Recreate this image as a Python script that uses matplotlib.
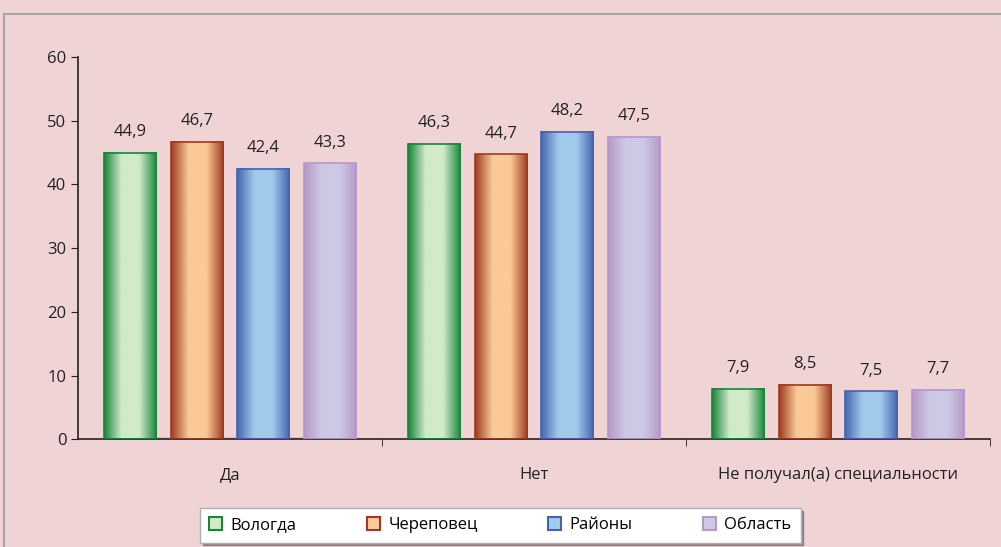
import matplotlib
matplotlib.use("Agg")
import matplotlib.pyplot as plt
import numpy as np
from matplotlib.colors import LinearSegmentedColormap
from matplotlib.patches import Rectangle

categories = ["Да", "Нет", "Не получал(а) специальности"]
series_names = ["Вологда", "Череповец", "Районы", "Область"]
vologda = [44.9, 46.3, 7.9]
cherepovets = [46.7, 44.7, 8.5]
rayony = [42.4, 48.2, 7.5]
oblast = [43.3, 47.5, 7.7]
series_values = [vologda, cherepovets, rayony, oblast]

# (edge colour, light centre colour)
palette = [
    ("#17853a", "#d2eaca"),
    ("#9e3a22", "#fbca96"),
    ("#4564b0", "#a2cbeb"),
    ("#b798ca", "#cdc9e5"),
]

BG = "#f0d3d4"
plt.rcParams["font.family"] = ["Open Sans", "DejaVu Sans"]

fig = plt.figure(figsize=(10.01, 5.47), dpi=100, facecolor=BG)
ax = fig.add_axes([0.078, 0.197, 0.911, 0.699])
ax.set_facecolor(BG)

# outer chart frame
fig.patches.append(Rectangle((4 / 1001, -0.1), 1.2, 1 - 14 / 547 + 0.1, transform=fig.transFigure,
                             fill=False, edgecolor="#a9a3a5", linewidth=1.5))

n = len(series_names)
pitch = 0.219
width = 0.172
x = np.arange(len(categories))

for i, (name, values, (edge, light)) in enumerate(zip(series_names, series_values, palette)):
    cmap = LinearSegmentedColormap.from_list(name, [edge, light, light, edge], N=256)
    grad = np.linspace(0, 1, 256).reshape(1, -1)
    offset = (i - (n - 1) / 2) * pitch
    for xc, v in zip(x, values):
        left = xc + offset - width / 2
        ax.imshow(grad, cmap=cmap, aspect="auto", extent=(left, left + width, 0, v),
                  interpolation="bicubic", zorder=2)
        ax.add_patch(Rectangle((left, 0), width, v, fill=False, edgecolor=edge, linewidth=1.2, zorder=3))
        ax.text(xc + offset, v + 2.0, f"{v:.1f}".replace(".", ","), ha="center", va="bottom",
                fontsize=12, color="#222222", zorder=4)
    ax.bar([0], [0], color=light, edgecolor=edge, linewidth=1.5, label=name)

ax.set_xlim(-0.5, len(categories) - 0.5)
ax.set_ylim(0, 60)
ax.set_yticks(range(0, 61, 10))
ax.tick_params(axis="y", labelsize=12, direction="out", length=5, colors="#222222")
ax.set_xticks(x)
ax.set_xticklabels(categories, fontsize=12, color="#222222")
ax.tick_params(axis="x", length=0, pad=20)
ax.set_xticks(np.arange(0.5, len(categories), 1), minor=True)
ax.tick_params(axis="x", which="minor", direction="out", length=5, color="#222222")
for side in ("top", "right"):
    ax.spines[side].set_visible(False)
for side in ("left", "bottom"):
    ax.spines[side].set_color("#222222")
    ax.spines[side].set_linewidth(1.2)

leg = ax.legend(loc="center", bbox_to_anchor=(0.463, -0.225), bbox_transform=ax.transAxes,
                ncol=4, frameon=True, fancybox=False, shadow=True, fontsize=12,
                handlelength=0.8, handleheight=0.8, handletextpad=0.5, columnspacing=4.2,
                borderpad=0.55, borderaxespad=0, edgecolor="#b0b0b0")
leg.get_frame().set_facecolor("white")

fig.savefig("out.png", dpi=100, facecolor=BG)
